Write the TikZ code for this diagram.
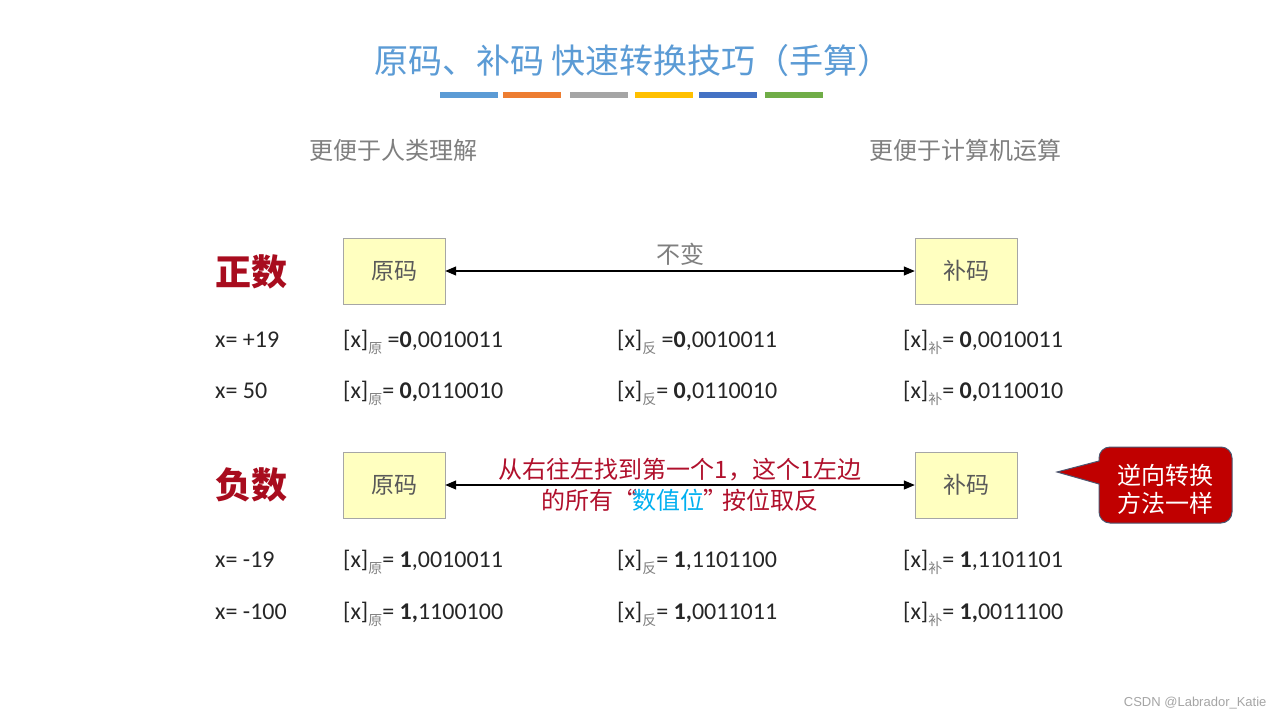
\documentclass[tikz,border=0pt]{standalone}
\usepackage{fontspec}
\setmainfont{Carlito}
\newfontfamily\cjk{Noto Sans CJK SC}
\newfontfamily\wmfont{Liberation Sans}
\usetikzlibrary{arrows.meta}

\definecolor{titleblue}{HTML}{5B9BD5}
\definecolor{barA}{HTML}{5B9BD5}
\definecolor{barB}{HTML}{ED7D31}
\definecolor{barC}{HTML}{A5A5A5}
\definecolor{barD}{HTML}{FFC000}
\definecolor{barE}{HTML}{4472C4}
\definecolor{barF}{HTML}{70AD47}
\definecolor{headgray}{HTML}{7F7F7F}
\definecolor{boxfill}{HTML}{FFFFC0}
\definecolor{boxline}{HTML}{A6A6A6}
\definecolor{boxtext}{HTML}{595959}
\definecolor{signred}{HTML}{A80C1E}
\definecolor{notered}{HTML}{B0102C}
\definecolor{digitcyan}{HTML}{00B0F0}
\definecolor{callred}{HTML}{C00000}
\definecolor{callline}{HTML}{4A5670}
\definecolor{rowtext}{HTML}{262626}
\definecolor{subgray}{HTML}{808080}

\newcommand\csub[1]{\raisebox{-0.6ex}{\cjk\fontsize{14}{14}\selectfont\color{subgray}#1}}

\tikzset{
  title/.style={font=\cjk\fontsize{34}{34}\selectfont, text=titleblue},
  head/.style={font=\cjk\fontsize{24}{24}\selectfont, text=headgray},
  sign/.style={anchor=west, inner sep=0pt, font=\cjk\bfseries\fontsize{36}{36}\selectfont, text=signred},
  codebox/.style={draw=boxline, fill=boxfill, minimum width=102pt, minimum height=66pt,
    font=\cjk\fontsize{23}{23}\selectfont, text=boxtext},
  both/.style={{Triangle[length=11pt,width=9pt]}-{Triangle[length=11pt,width=9pt]}, line width=1.3pt},
  row/.style={anchor=base west, inner sep=0pt, font=\fontsize{24}{24}\selectfont, text=rowtext},
  note/.style={fill=callred, draw=callline, line width=1pt},
}

\begin{document}
\begin{tikzpicture}[x=1pt,y=-1pt]
  \fill[white] (0,0) rectangle (1280,715);
  % title and colour bars:
  \node[title] (title) at (633,61) {原码、补码 快速转换技巧（手算）};
  \foreach \x/\c in {440/barA,503/barB,570/barC,635/barD,699/barE,765/barF}
    \fill[\c] (\x,92) rectangle ++(58,6);
  \node[head] (human) at (393,150) {更便于人类理解};
  \node[head] (machine) at (965,150) {更便于计算机运算};
  % signs and boxes:
  \node[sign] (pos) at (215,272) {正数};
  \node[sign] (neg) at (215,485) {负数};
  \node[codebox] (yuanP) at (394,271) {原码};
  \node[codebox] (buP) at (966,271) {补码};
  \node[codebox] (yuanN) at (394,485) {原码};
  \node[codebox] (buN) at (966,485) {补码};
  % arrows:
  \draw[both] (yuanP) -- node[above=2pt, head] {不变} (buP);
  \draw[both] (yuanN) -- node[above=0pt, font=\cjk\fontsize{24}{24}\selectfont, text=notered] {从右往左找到第一个1，这个1左边}
    node[below=0pt, font=\cjk\fontsize{24}{24}\selectfont, text=notered] {的所有“\hspace{-5pt}{\color{digitcyan}数值位}\hspace{-1pt}”\hspace{-5pt}按位取反} (buN);
  % rows of values:
  \foreach \y/\n/\a/\b/\c [count=\i] in {
    347/{x= +19}/{[x]\csub{原} =\textbf{0},0010011}/{[x]\csub{反} =\textbf{0},0010011}/{[x]\csub{补}= \textbf{0},0010011},
    398/{x= 50}/{[x]\csub{原}= \textbf{0,}0110010}/{[x]\csub{反}= \textbf{0,}0110010}/{[x]\csub{补}= \textbf{0,}0110010},
    567/{x= -19}/{[x]\csub{原}= \textbf{1},0010011}/{[x]\csub{反}= \textbf{1},1101100}/{[x]\csub{补}= \textbf{1},1101101},
    619/{x= -100}/{[x]\csub{原}= \textbf{1,}1100100}/{[x]\csub{反}= \textbf{1,}0011011}/{[x]\csub{补}= \textbf{1,}0011100}} {
    \node[row] (x\i) at (215,\y) {\n};
    \node[row] (yuan\i) at (343,\y) {\a};
    \node[row] (fan\i) at (617,\y) {\b};
    \node[row] (bu\i) at (903,\y) {\c};
  }
  % callout:
  \coordinate (tip) at (1057,472);
  \draw[note] (tip) -- (1099,461) {[rounded corners=11pt] -- (1099,447) -- (1232,447) -- (1232,523) -- (1099,523)} -- (1099,484) -- cycle;
  \node[font=\cjk\fontsize{24}{28}\selectfont, text=white, align=center] (same) at (1165,489) {逆向转换\\方法一样};
  \node[anchor=east, font=\wmfont\fontsize{13}{13}\selectfont, text=barC] (mark) at (1270,703) {CSDN @Labrador\_Katie};
\end{tikzpicture}
\end{document}
